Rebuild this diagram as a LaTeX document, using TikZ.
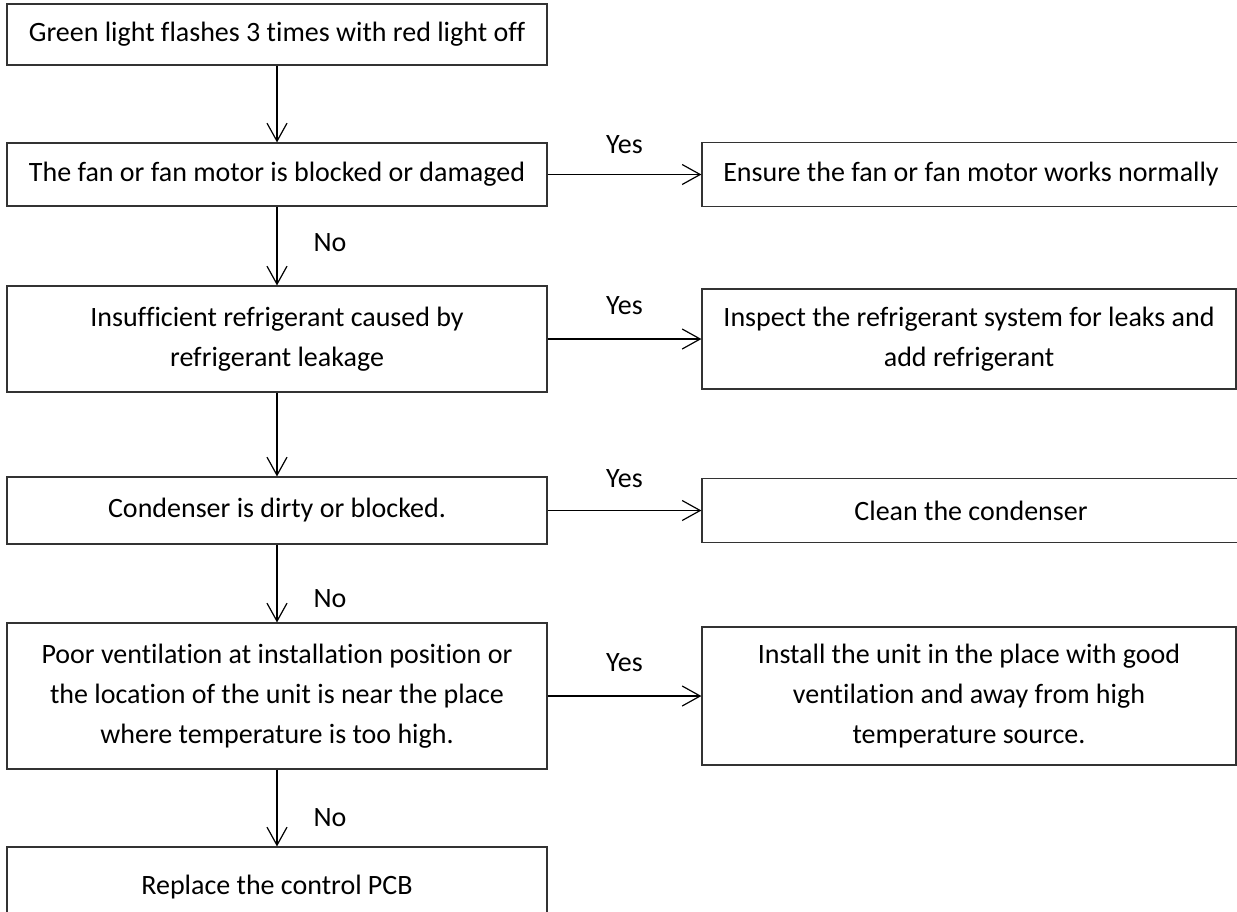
\documentclass[tikz,border=0pt]{standalone}
\usepackage{fontspec}
\setmainfont{Carlito}[Ligatures=NoCommon]
\usetikzlibrary{arrows.meta}

\begin{document}
\begin{tikzpicture}[x=0.5pt,y=-0.5pt,
    box/.style={draw=black!80,line width=0.6pt,inner sep=0pt,align=center,
      font=\fontsize{14}{20}\selectfont},
    flow/.style={-{Straight Barb[length=9pt,width=10pt]},line width=0.6pt},
    lbl/.style={font=\fontsize{14}{20}\selectfont,inner sep=0pt}]
  \useasboundingbox (0,0) rectangle (1237,911);
  \clip (0,0) rectangle (1237,911);
  % left column
  \node[box,minimum width=270pt,minimum height=30.5pt] (start) at (277,34.5)
    {Green light flashes 3 times with red light off};
  \node[box,minimum width=270pt,minimum height=31.5pt] (fan) at (277,174.5)
    {The fan or fan motor is blocked or damaged};
  \node[box,minimum width=270pt,minimum height=53pt] (leak) at (277,339)
    {Insufficient refrigerant caused by\\refrigerant leakage};
  \node[box,minimum width=270pt,minimum height=33.5pt] (cond) at (277,510.5)
    {Condenser is dirty or blocked.};
  \node[box,minimum width=270pt,minimum height=73pt] (vent) at (277,696)
    {Poor ventilation at installation position or\\the location of the unit is near the place\\where temperature is too high.};
  \node[box,minimum width=270pt,minimum height=40pt] (pcb) at (277,887)
    {Replace the control PCB};
  % right column
  \node[box,minimum width=269pt,minimum height=32pt] (fanfix) at (971,174.5)
    {Ensure the fan or fan motor works normally};
  \node[box,minimum width=267pt,minimum height=50pt] (leakfix) at (969,339)
    {Inspect the refrigerant system for leaks and\\add refrigerant};
  \node[box,minimum width=269pt,minimum height=32pt] (condfix) at (971,510.5)
    {Clean the condenser};
  \node[box,minimum width=267pt,minimum height=69pt] (ventfix) at (969,696)
    {Install the unit in the place with good\\ventilation and away from high\\temperature source.};
  % connectors
  \draw[flow] (start) -- (fan);
  \draw[flow] (fan) -- (leak) node[lbl,pos=0.46,right=18pt] {No};
  \draw[flow] (leak) -- (cond);
  \draw[flow] (cond) -- (vent) node[lbl,pos=0.7,right=18pt] {No};
  \draw[flow] (vent) -- (pcb) node[lbl,pos=0.62,right=18pt] {No};
  \draw[flow] (fan) -- (fanfix) node[lbl,midway,above=10pt] {Yes};
  \draw[flow] (leak) -- (leakfix) node[lbl,midway,above=12pt] {Yes};
  \draw[flow] (cond) -- (condfix) node[lbl,midway,above=11pt] {Yes};
  \draw[flow] (vent) -- (ventfix) node[lbl,midway,above=12pt] {Yes};
\end{tikzpicture}
\end{document}
